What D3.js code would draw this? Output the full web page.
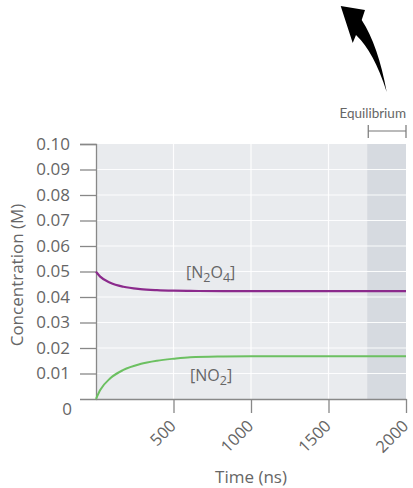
<!DOCTYPE html>
<html>
<head>
<meta charset="utf-8">
<script src="https://cdn.jsdelivr.net/npm/d3@7"></script>
<style>
  body { margin: 0; background: #fff; }
  text { font-family: "Open Sans", "Liberation Sans", sans-serif; fill: #666; }
</style>
</head>
<body>
<div id="chart"></div>
<script>
// valeurs
var times = [0, 27, 92, 177, 285, 393, 500, 608, 820, 1000, 1500, 2000];
var n2o4 = [0.0499, 0.0480, 0.0456, 0.0440, 0.0431, 0.0427, 0.0425, 0.0424, 0.0423, 0.0423, 0.0423, 0.0423];
var no2 = [0, 0.0035, 0.0081, 0.0114, 0.0137, 0.0150, 0.0158, 0.0164, 0.0167, 0.0168, 0.0168, 0.0168];
var xTicks = [500, 1000, 1500, 2000];
var yTicks = [0.01, 0.02, 0.03, 0.04, 0.05, 0.06, 0.07, 0.08, 0.09, 0.10];
var equilibrium = [1750, 2000];

var svg = d3.select('#chart').append('svg').attr('width', 413).attr('height', 488);

var x = d3.scaleLinear().domain([0, 2000]).range([96, 406]);
var y = d3.scaleLinear().domain([0, 0.1]).range([399, 144]);

// fond du graphe
svg.append('rect')
    .attr('x', x(0)).attr('y', y(0.1))
    .attr('width', x(2000) - x(0)).attr('height', y(0) - y(0.1))
    .attr('fill', '#e9ebee');

// zone equilibre
svg.append('rect')
    .attr('x', x(equilibrium[0])).attr('y', y(0.1))
    .attr('width', x(equilibrium[1]) - x(equilibrium[0])).attr('height', y(0) - y(0.1))
    .attr('fill', '#d6dae0');

// grille
svg.append('g').selectAll('line').data(yTicks.slice(0, -1)).enter().append('line')
    .attr('x1', x(0)).attr('x2', x(2000))
    .attr('y1', function(d){ return y(d); }).attr('y2', function(d){ return y(d); })
    .attr('stroke', '#fff').attr('stroke-width', 1.2).attr('stroke-opacity', 0.9);
svg.append('g').selectAll('line').data(xTicks.slice(0, -1)).enter().append('line')
    .attr('x1', function(d){ return x(d); }).attr('x2', function(d){ return x(d); })
    .attr('y1', y(0.1)).attr('y2', y(0))
    .attr('stroke', '#fff').attr('stroke-width', 1.2).attr('stroke-opacity', 0.9);

// axes
var yAxis = d3.axisLeft(y).tickValues(yTicks).tickSize(16).tickPadding(10)
    .tickFormat(d3.format('.2f'));
var gy = svg.append('g').attr('transform', 'translate(' + x(0) + ',0)').call(yAxis);
gy.select('.domain').attr('stroke', '#888').attr('stroke-width', 1.3);
gy.selectAll('.tick line').attr('stroke', '#888').attr('stroke-width', 1.3);
gy.selectAll('.tick text').style('font-size', '17px').attr('fill', '#666');

var xAxis = d3.axisBottom(x).tickValues(xTicks).tickSize(14).tickSizeOuter(0)
    .tickFormat(d3.format('d'));
var gx = svg.append('g').attr('transform', 'translate(0,' + y(0) + ')').call(xAxis);
gx.select('.domain').attr('stroke', '#888').attr('stroke-width', 1.3);
gx.selectAll('.tick line').attr('stroke', '#888').attr('stroke-width', 1.3);
gx.selectAll('.tick text')
    .style('font-size', '16.5px').attr('fill', '#666')
    .attr('text-anchor', 'end')
    .attr('dy', 0).attr('y', 0)
    .attr('transform', 'translate(3,28) rotate(-45)');

svg.append('text').attr('x', 72).attr('y', 409).attr('dy', '0.35em')
    .attr('text-anchor', 'end').style('font-size', '17px').text('0');

// titres des axes
svg.append('text').attr('x', 251).attr('y', 483).attr('text-anchor', 'middle')
    .style('font-size', '17px').text('Time (ns)');
svg.append('text').attr('transform', 'translate(23,275) rotate(-90)')
    .attr('text-anchor', 'middle').style('font-size', '17px').text('Concentration (M)');

// courbes
var line = d3.line().curve(d3.curveMonotoneX)
    .x(function(d){ return x(d[0]); }).y(function(d){ return y(d[1]); });
svg.append('path').datum(d3.zip(times, n2o4)).attr('d', line)
    .attr('fill', 'none').attr('stroke', '#8b2a8c').attr('stroke-width', 2.2);
svg.append('path').datum(d3.zip(times, no2)).attr('d', line)
    .attr('fill', 'none').attr('stroke', '#6cc061').attr('stroke-width', 2);

// etiquettes des courbes
var t1 = svg.append('text').attr('x', 186).attr('y', 278).style('font-size', '16px');
t1.append('tspan').text('[N');
t1.append('tspan').attr('dy', 4).style('font-size', '12.5px').text('2');
t1.append('tspan').attr('dy', -4).text('O');
t1.append('tspan').attr('dy', 4).style('font-size', '12.5px').text('4');
t1.append('tspan').attr('dy', -4).text(']');
var t2 = svg.append('text').attr('x', 190).attr('y', 381).style('font-size', '16px');
t2.append('tspan').text('[NO');
t2.append('tspan').attr('dy', 4).style('font-size', '12.5px').text('2');
t2.append('tspan').attr('dy', -4).text(']');

// crochet equilibre
var bx0 = x(equilibrium[0]) + 1, bx1 = x(equilibrium[1]);
var br = svg.append('g').attr('stroke', '#777').attr('stroke-width', 1.2);
br.append('line').attr('x1', bx0).attr('x2', bx1).attr('y1', 131).attr('y2', 131);
br.append('line').attr('x1', bx0).attr('x2', bx0).attr('y1', 125).attr('y2', 138);
br.append('line').attr('x1', bx1).attr('x2', bx1).attr('y1', 125).attr('y2', 138);
svg.append('text').attr('x', 406).attr('y', 118).attr('text-anchor', 'end')
    .style('font-size', '13.5px').style('font-family', 'Lato, sans-serif').text('Equilibrium');

// fleche
svg.append('path')
    .attr('d', 'M340.7,6 L365,10 L361.7,20 Q378,45 386.7,92 Q374,52 356,35 L352.7,43 Z')
    .attr('fill', '#000');
</script>
</body>
</html>
